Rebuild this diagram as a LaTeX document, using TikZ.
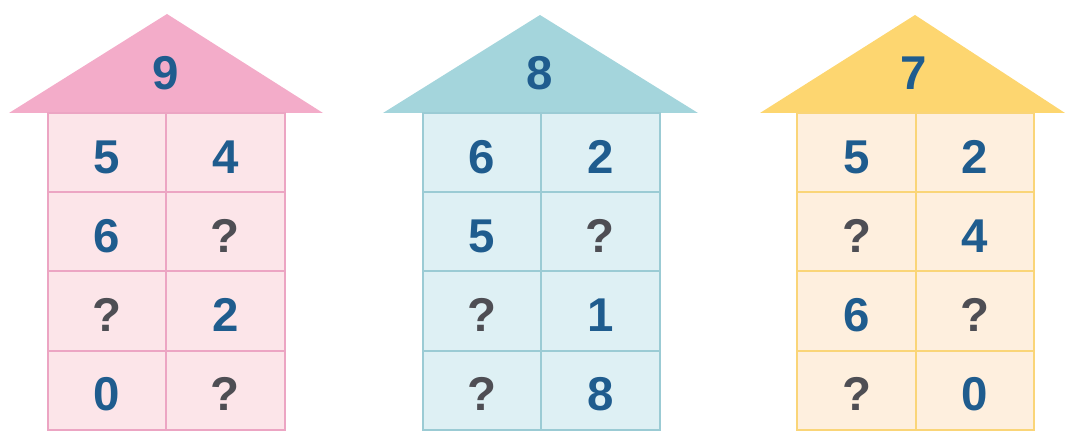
\documentclass[tikz,border=0pt]{standalone}
\usepackage{fontspec}
\setsansfont{Liberation Sans}
\usetikzlibrary{positioning}
\definecolor{NumBlue}{RGB}{31,92,142}
\definecolor{AskGray}{RGB}{78,78,84}
\definecolor{PinkRoof}{RGB}{243,172,201}
\definecolor{PinkWall}{RGB}{252,229,233}
\definecolor{PinkLine}{RGB}{236,165,195}
\definecolor{TealRoof}{RGB}{164,213,220}
\definecolor{TealWall}{RGB}{222,240,244}
\definecolor{TealLine}{RGB}{155,203,212}
\definecolor{GoldRoof}{RGB}{253,214,112}
\definecolor{GoldWall}{RGB}{254,239,222}
\definecolor{GoldLine}{RGB}{250,213,120}
\tikzset{num/.style={font=\sffamily\bfseries\fontsize{27}{27}\selectfont,text=NumBlue}, ask/.style={num,text=AskGray},cell/.style 2 args={draw=#1,fill=#2,line width=1.1pt,minimum width=2.37cm,minimum height=1.585cm,text height=23.5pt,text depth=0pt,inner sep=0pt,outer sep=0pt}}

\begin{document}
\begin{tikzpicture}[x=0.02cm,y=-0.02cm,node distance=0pt]
\useasboundingbox (0,0) rectangle (1065,432);
% house 9
\fill[PinkRoof] (9,113) -- (167,14) -- (323,113) -- cycle;
\node[num] (roofa) at (166,73) {9};
\node[cell={PinkLine}{PinkWall},num] (a1) at (107,152.6) {5};
\node[cell={PinkLine}{PinkWall},num,right=of a1] (a2) {4};
\node[cell={PinkLine}{PinkWall},num,below=of a1] (a3) {6};
\node[cell={PinkLine}{PinkWall},ask,right=of a3] (a4) {?};
\node[cell={PinkLine}{PinkWall},ask,below=of a3] (a5) {?};
\node[cell={PinkLine}{PinkWall},num,right=of a5] (a6) {2};
\node[cell={PinkLine}{PinkWall},num,below=of a5] (a7) {0};
\node[cell={PinkLine}{PinkWall},ask,right=of a7] (a8) {?};
% house 8
\fill[TealRoof] (383,113) -- (540,15) -- (698,113) -- cycle;
\node[num] (roofb) at (540,73) {8};
\node[cell={TealLine}{TealWall},num] (b1) at (482,152.6) {6};
\node[cell={TealLine}{TealWall},num,right=of b1] (b2) {2};
\node[cell={TealLine}{TealWall},num,below=of b1] (b3) {5};
\node[cell={TealLine}{TealWall},ask,right=of b3] (b4) {?};
\node[cell={TealLine}{TealWall},ask,below=of b3] (b5) {?};
\node[cell={TealLine}{TealWall},num,right=of b5] (b6) {1};
\node[cell={TealLine}{TealWall},ask,below=of b5] (b7) {?};
\node[cell={TealLine}{TealWall},num,right=of b7] (b8) {8};
% house 7
\fill[GoldRoof] (760,113) -- (915,15) -- (1065,113) -- cycle;
\node[num] (roofc) at (914,73) {7};
\node[cell={GoldLine}{GoldWall},num] (c1) at (856.5,152.6) {5};
\node[cell={GoldLine}{GoldWall},num,right=of c1] (c2) {2};
\node[cell={GoldLine}{GoldWall},ask,below=of c1] (c3) {?};
\node[cell={GoldLine}{GoldWall},num,right=of c3] (c4) {4};
\node[cell={GoldLine}{GoldWall},num,below=of c3] (c5) {6};
\node[cell={GoldLine}{GoldWall},ask,right=of c5] (c6) {?};
\node[cell={GoldLine}{GoldWall},ask,below=of c5] (c7) {?};
\node[cell={GoldLine}{GoldWall},num,right=of c7] (c8) {0};
\end{tikzpicture}
\end{document}
